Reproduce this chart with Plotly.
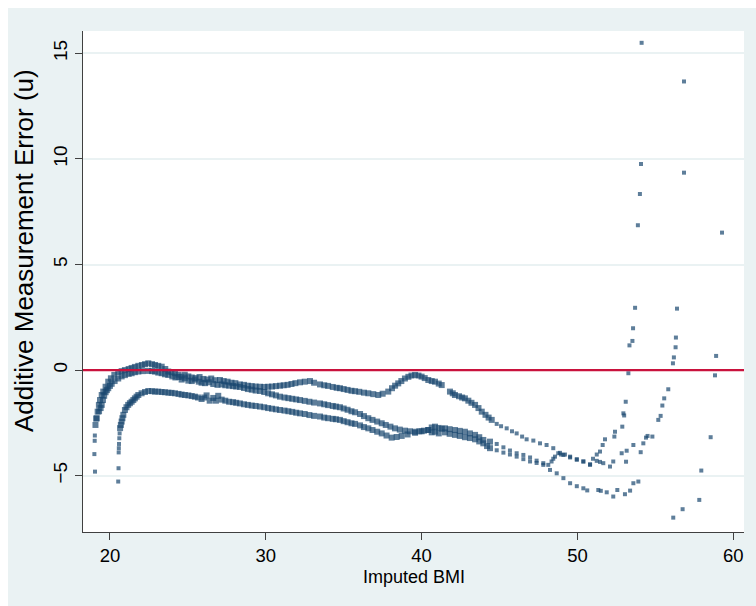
import plotly.graph_objects as go

# ---- data ----
# upper curve
a1_x = [19.15, 19.21, 19.29, 19.36, 19.47, 19.57, 19.72, 19.89, 20.06, 20.28, 20.53, 20.75, 20.96, 21.2, 21.39,
        21.6, 21.82, 22.05, 22.25, 22.46, 22.7, 22.89, 23.1, 23.32, 23.55, 23.74, 23.95, 24.17, 24.4, 24.6,
        24.8, 25.03, 25.25, 25.5, 25.75, 26.0, 26.25, 26.5, 26.75, 27.06, 27.3, 27.55, 27.8, 28.05, 28.34,
        28.6, 28.85, 29.1, 29.35, 29.63, 29.9, 30.15, 30.4, 30.65, 30.91, 31.15, 31.4, 31.65, 31.9, 32.2,
        32.5, 32.84, 33.1, 33.48, 33.75, 34.0, 34.3, 34.55, 34.76, 35.0, 35.25, 35.5, 35.73, 36.0, 36.3,
        36.58, 36.9, 37.22, 37.5, 37.86, 38.1, 38.3, 38.5, 38.7, 38.93, 39.15, 39.35, 39.58, 39.8, 40.0,
        40.2, 40.43, 40.65, 40.86, 41.1, 41.29, 41.82, 42.0, 42.14, 42.4, 42.6, 42.78, 43.0, 43.2, 43.43,
        43.65, 43.86, 44.1, 44.3, 44.5, 44.82, 45.1, 45.46, 45.8, 46.1, 46.45, 46.74, 47.17, 47.6, 48.02,
        48.45, 48.88, 49.2, 49.53, 49.96, 50.38, 50.81, 51.0, 51.24, 51.45, 51.62, 51.77, 52.37, 52.41,
        52.88, 52.95, 53.0, 53.1, 53.27, 53.34, 53.53, 53.57, 53.70, 53.88, 54.01, 54.08, 54.12]
a1_y = [-2.28, -1.97, -1.65, -1.42, -1.18, -1.02, -0.79, -0.55, -0.39, -0.23, -0.10, -0.05, 0.00, 0.05, 0.10,
        0.15, 0.20, 0.24, 0.28, 0.32, 0.28, 0.24, 0.20, 0.16, 0.05, -0.07, -0.10, -0.15, -0.22, -0.31,
        -0.22, -0.30, -0.35, -0.38, -0.33, -0.42, -0.45, -0.40, -0.48, -0.47, -0.52, -0.55, -0.60, -0.62, -0.68,
        -0.70, -0.74, -0.76, -0.78, -0.79, -0.80, -0.79, -0.78, -0.76, -0.74, -0.72, -0.70, -0.66, -0.62, -0.58,
        -0.55, -0.52, -0.60, -0.68, -0.72, -0.75, -0.80, -0.84, -0.86, -0.90, -0.94, -0.98, -1.00, -1.03, -1.07,
        -1.10, -1.14, -1.18, -1.12, -1.02, -0.86, -0.74, -0.63, -0.52, -0.40, -0.32, -0.26, -0.23, -0.26, -0.31,
        -0.38, -0.47, -0.52, -0.55, -0.64, -0.71, -1.02, -1.10, -1.18, -1.24, -1.30, -1.34, -1.45, -1.55, -1.65,
        -1.80, -1.97, -2.12, -2.25, -2.36, -2.55, -2.66, -2.76, -2.90, -3.00, -3.15, -3.28, -3.34, -3.47, -3.55,
        -3.70, -3.92, -4.00, -4.10, -4.25, -4.33, -4.46, -4.20, -4.00, -3.86, -3.55, -3.28, -3.15, -2.92,
        -2.68, -2.05, -2.15, -1.50, -0.15, 1.17, 1.38, 1.98, 2.95, 6.86, 8.34, 9.76, 15.50]

# middle curve
a2_x = [19.04, 19.0, 19.02, 19.03, 19.07, 19.12, 19.3, 19.4, 19.47, 19.55, 19.63, 19.72, 19.8, 19.89, 20.0,
        20.11, 20.3, 20.53, 20.75, 20.96, 21.2, 21.39, 21.6, 21.82, 22.1, 22.46, 22.7, 22.89, 23.1, 23.32,
        23.53, 23.74, 24.0, 24.2, 24.4, 24.6, 24.81, 25.03, 25.25, 25.45, 25.7, 25.88, 26.1, 26.35, 26.63,
        26.9, 27.17, 27.4, 27.65, 27.9, 28.1, 28.34, 28.6, 28.85, 29.1, 29.35, 29.63, 29.9, 30.15, 30.4,
        30.65, 30.91, 31.2, 31.45, 31.7, 31.95, 32.2, 32.5, 32.8, 33.1, 33.48, 33.75, 34.0, 34.3, 34.5,
        34.76, 35.0, 35.25, 35.5, 35.73, 36.05, 36.3, 36.58, 36.85, 37.15, 37.44, 37.7, 38.0, 38.29, 38.6,
        38.93, 39.25, 39.58, 39.85, 40.15, 40.43, 40.65, 40.86, 41.1, 41.3, 41.5, 41.8, 42.14, 42.45, 42.78,
        43.1, 43.43, 43.7, 43.96, 44.39, 44.82, 45.25, 45.67, 46.1, 46.53, 46.96, 47.38, 47.81, 48.13, 48.34,
        48.45, 48.56, 48.77, 48.95, 49.1, 49.53, 49.96, 50.38, 50.81, 51.24, 51.45, 51.66, 52.09, 52.3,
        52.84, 53.12, 53.16, 53.59, 54.06, 54.23, 54.4, 54.5, 54.81, 55.19, 55.34, 55.45, 55.57, 55.83,
        56.13, 56.19, 56.30, 56.32, 56.39, 56.84, 56.84]
a2_y = [-4.81, -3.98, -3.35, -3.10, -2.60, -2.30, -1.95, -1.80, -1.65, -1.42, -1.22, -1.05, -0.95, -0.86, -0.75,
        -0.65, -0.52, -0.40, -0.30, -0.24, -0.18, -0.15, -0.10, -0.07, -0.05, -0.04, -0.05, -0.07, -0.12, -0.15,
        -0.20, -0.23, -0.30, -0.35, -0.33, -0.45, -0.39, -0.50, -0.52, -0.45, -0.55, -0.60, -0.62, -0.58, -0.66,
        -0.70, -0.68, -0.72, -0.74, -0.76, -0.78, -0.80, -0.85, -0.90, -0.93, -0.97, -0.99, -1.04, -1.10, -1.15,
        -1.20, -1.26, -1.30, -1.33, -1.36, -1.39, -1.42, -1.46, -1.50, -1.54, -1.58, -1.62, -1.66, -1.70, -1.73,
        -1.76, -1.82, -1.88, -1.95, -2.00, -2.08, -2.18, -2.28, -2.36, -2.44, -2.52, -2.60, -2.68, -2.76, -2.82,
        -2.87, -2.90, -2.92, -2.90, -2.87, -2.84, -2.72, -2.68, -2.74, -2.78, -2.76, -2.80, -2.84, -2.88, -2.92,
        -3.00, -3.07, -3.18, -3.31, -3.39, -3.50, -3.66, -3.81, -3.94, -4.02, -4.14, -4.29, -4.41, -4.49, -4.33,
        -4.20, -4.10, -3.94, -4.00, -4.02, -4.14, -4.22, -4.33, -4.49, -4.30, -4.35, -4.41, -4.57, -4.33,
        -3.94, -4.34, -3.82, -3.55, -3.89, -3.47, -3.20, -3.12, -3.15, -2.36, -2.17, -1.68, -1.34, -0.91,
        0.32, 0.60, 1.08, 1.54, 2.91, 9.35, 13.67]

# lower curve
b_x = [20.53, 20.55, 20.56, 20.57, 20.58, 20.6, 20.62, 20.65, 20.7, 20.75, 20.8, 20.86, 20.96, 21.06, 21.17,
       21.28, 21.39, 21.5, 21.6, 21.71, 21.82, 22.03, 22.25, 22.46, 22.7, 22.89, 23.1, 23.32, 23.53, 23.75,
       23.95, 24.17, 24.4, 24.6, 24.81, 25.03, 25.25, 25.45, 25.65, 25.88, 26.05, 26.2, 26.4, 26.63, 26.8,
       26.95, 27.17, 27.4, 27.65, 27.9, 28.1, 28.34, 28.6, 28.85, 29.1, 29.35, 29.63, 29.9, 30.15, 30.4,
       30.65, 30.91, 31.2, 31.45, 31.7, 31.95, 32.2, 32.5, 32.8, 33.1, 33.48, 33.75, 34.0, 34.3, 34.5,
       34.76, 35.0, 35.25, 35.5, 35.73, 36.05, 36.3, 36.58, 36.85, 37.15, 37.44, 37.75, 38.08, 38.4, 38.72,
       39.1, 39.58, 40.0, 40.43, 40.65, 40.86, 41.1, 41.5, 41.8, 42.14, 42.45, 42.78, 43.1, 43.43, 43.7,
       43.96, 44.2, 44.39, 44.82, 45.25, 45.67, 46.1, 46.53, 46.96, 47.38, 47.81, 48.24, 48.67, 49.1, 49.53,
       49.96, 50.38, 50.63, 51.34, 51.5, 51.88, 52.3, 52.56, 53.05, 53.38, 53.59, 53.91, 56.15, 56.75,
       57.82, 57.95, 58.55, 58.83, 58.9, 59.28]
b_y = [-5.28, -4.65, -3.90, -3.70, -3.50, -3.23, -3.00, -2.75, -2.60, -2.44, -2.28, -2.12, -1.89, -1.76, -1.65,
       -1.57, -1.50, -1.42, -1.34, -1.26, -1.18, -1.10, -1.04, -0.99, -1.00, -1.02, -1.02, -1.04, -1.05, -1.07,
       -1.08, -1.10, -1.13, -1.16, -1.18, -1.20, -1.23, -1.26, -1.30, -1.37, -1.30, -1.20, -1.45, -1.32, -1.45,
       -1.22, -1.40, -1.45, -1.50, -1.52, -1.55, -1.58, -1.62, -1.65, -1.68, -1.70, -1.73, -1.76, -1.80, -1.83,
       -1.86, -1.89, -1.92, -1.95, -1.98, -2.02, -2.05, -2.08, -2.13, -2.17, -2.20, -2.25, -2.28, -2.31, -2.33,
       -2.36, -2.42, -2.47, -2.52, -2.55, -2.62, -2.70, -2.76, -2.84, -2.92, -3.00, -3.10, -3.20, -3.17, -3.12,
       -3.05, -2.97, -2.90, -2.84, -2.95, -2.92, -3.00, -2.95, -3.02, -3.07, -3.12, -3.18, -3.22, -3.28, -3.38,
       -3.47, -3.60, -3.70, -3.80, -3.91, -4.00, -4.10, -4.22, -4.33, -4.40, -4.49, -4.73, -4.89, -5.12, -5.36,
       -5.50, -5.60, -5.70, -5.68, -5.72, -5.79, -5.99, -5.68, -5.88, -5.71, -5.36, -5.28, -6.99, -6.59,
       -6.15, -4.76, -3.18, -0.25, 0.67, 6.51]

x_ticks = [20, 30, 40, 50, 60]
y_ticks = [-5, 0, 5, 10, 15]
x_title = "Imputed BMI"
y_title = "Additive Measurement Error (u)"

NAVY = "#1A476F"
BG = "#EAF2F3"
FONT = "Liberation Sans, Arial, sans-serif"


def marker_sizes(xs, ys):
    # dense part of the cloud drawn with bigger squares, sparse parts with small ones
    out = []
    for x, y in zip(xs, ys):
        if x > 44.6 or (x < 21.0 and y < -2.9):
            out.append(4)
        else:
            out.append(6)
    return out


fig = go.Figure()
for xs, ys in [(a1_x, a1_y), (a2_x, a2_y), (b_x, b_y)]:
    fig.add_trace(go.Scatter(x=xs, y=ys, mode="markers",
                             marker=dict(color=NAVY, size=marker_sizes(xs, ys), symbol="square",
                                         line=dict(width=0)),
                             showlegend=False, hoverinfo="skip"))

fig.update_layout(
    width=756, height=606,
    margin=dict(l=83, r=12, t=31, b=74),
    paper_bgcolor=BG, plot_bgcolor="white",
    font=dict(family=FONT, color="black", size=19),
    xaxis=dict(range=[18.27, 60.69], tickvals=x_ticks, ticks="outside", ticklen=7, tickwidth=1,
               tickcolor="#404040", showline=True, linecolor="#404040", linewidth=1.3,
               showgrid=False, zeroline=False, tickfont=dict(size=18.5, family=FONT)),
    yaxis=dict(range=[-7.67, 16.06], tickvals=y_ticks, ticks="outside", ticklen=7, tickwidth=1,
               tickcolor="#404040", showline=True, linecolor="#404040", linewidth=1.3,
               showgrid=True, gridcolor=BG, gridwidth=1.5, zeroline=False, tickangle=-90,
               tickfont=dict(size=19, family=FONT)),
    shapes=[
        dict(type="rect", xref="paper", yref="paper", x0=-0.2, x1=1.1,
             y0=1 + 23 / 501, y1=1.2, fillcolor="white", line=dict(width=0), layer="below"),
        dict(type="rect", xref="paper", yref="paper", x0=-0.2, x1=-75 / 661,
             y0=-0.3, y1=1.2, fillcolor="white", line=dict(width=0), layer="below"),
        dict(type="line", xref="paper", yref="y", x0=0, x1=1, y0=0, y1=0,
             line=dict(color="#C9123D", width=2.3), layer="above"),
    ],
    annotations=[
        dict(text=x_title, xref="paper", yref="paper", x=0.5, y=-(577 - 532) / 501,
             xanchor="center", yanchor="middle", showarrow=False, font=dict(size=18, family=FONT)),
        dict(text=y_title, xref="paper", yref="paper", x=(24 - 83) / 661, y=1 - (251 - 31) / 501,
             xanchor="center", yanchor="middle", showarrow=False, textangle=-90,
             font=dict(size=26, family=FONT)),
    ],
)

fig.write_html("out.html")
